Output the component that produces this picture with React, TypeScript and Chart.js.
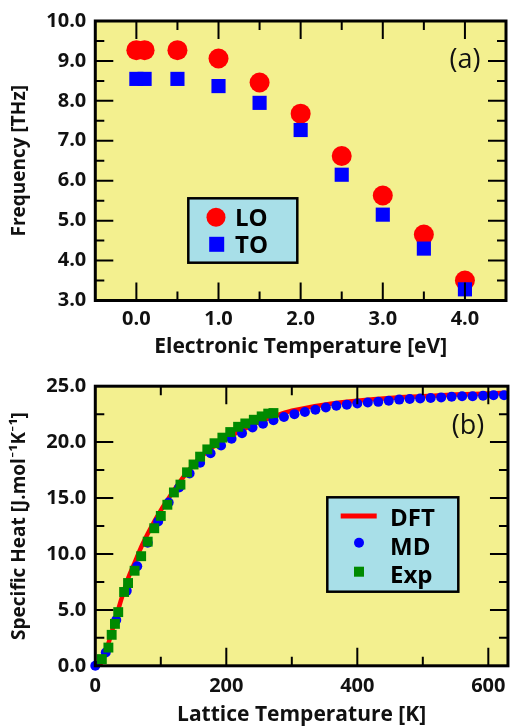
import React, { useEffect, useRef } from "react";
import { Chart, registerables } from "chart.js";
Chart.register(...registerables);

// ---------- Panel (a) data ----------
const electronicTemperature = [0.0, 0.1, 0.5, 1.0, 1.5, 2.0, 2.5, 3.0, 3.5, 4.0];
const loFrequency = [9.27, 9.27, 9.27, 9.06, 8.46, 7.68, 6.62, 5.63, 4.65, 3.5];
const toFrequency = [8.55, 8.55, 8.55, 8.37, 7.95, 7.27, 6.15, 5.15, 4.3, 3.28];
const frequencyTicks = [3, 4, 5, 6, 7, 8, 9, 10];
const frequencyMinorTicks = [3.5, 4.5, 5.5, 6.5, 7.5, 8.5, 9.5];
const electronicTicks = [0, 1, 2, 3, 4];
const electronicMinorTicks = [0.5, 1.5, 2.5, 3.5];

// ---------- Panel (b) data ----------
const dftTemperature = [0, 5, 10, 20, 30, 40, 50, 60, 70, 80, 90, 100, 110, 120, 140, 160, 180, 200, 225, 250, 275, 300, 350, 400, 450, 500, 550, 600, 630];
const dftHeat = [0, 0.05, 0.35, 2.0, 4.0, 6.0, 7.8, 9.2, 10.6, 11.8, 12.9, 13.9, 14.8, 15.7, 17.3, 18.6, 19.6, 20.35, 21.1, 21.8, 22.35, 22.8, 23.35, 23.7, 23.95, 24.1, 24.25, 24.35, 24.4];
const mdTemperature = [0, 16, 32, 48, 64, 80, 96, 112, 128, 144, 160, 176, 192, 208, 224, 240, 256, 272, 288, 304, 320, 336, 352, 368, 384, 400, 416, 432, 448, 464, 480, 496, 512, 528, 544, 560, 576, 592, 608, 624];
const mdHeat = [0, 1.19, 4.1, 6.7, 8.9, 11.0, 12.9, 14.6, 15.95, 17.2, 18.15, 19.0, 19.7, 20.3, 20.8, 21.3, 21.65, 21.95, 22.25, 22.5, 22.7, 22.9, 23.1, 23.25, 23.35, 23.45, 23.55, 23.6, 23.7, 23.8, 23.85, 23.9, 23.95, 24.0, 24.05, 24.1, 24.1, 24.15, 24.2, 24.2];
const expTemperature = [10, 20, 25, 30, 35, 44, 50, 60, 70, 80, 90, 100, 110, 120, 130, 140, 150, 160, 171, 182, 194, 206, 218, 229, 242, 254, 264, 272];
const expHeat = [0.6, 1.63, 2.77, 3.75, 4.8, 6.6, 7.4, 8.5, 9.8, 11.1, 12.3, 13.4, 14.4, 15.5, 16.2, 17.3, 18.0, 18.7, 19.35, 19.9, 20.4, 20.9, 21.37, 21.67, 22.0, 22.3, 22.55, 22.6];
const heatTicks = [0, 5, 10, 15, 20, 25];
const heatMinorTicks = [2.5, 7.5, 12.5, 17.5, 22.5];
const latticeTicks = [0, 200, 400, 600];
const latticeMinorTicks = [100, 300, 500];

const FAMILY = '"Open Sans", Lato, "DejaVu Sans", sans-serif';
const YELLOW = "#f3f08f";
const LEGEND_BG = "#a8dfe8";
const RED = "#ff0000";
const BLUE = "#0000ff";
const GREEN = "#008a00";

const pts = (xs: number[], ys: number[]) => xs.map((x, i) => ({ x, y: ys[i] }));

const frameTicksPlugin = {
  id: "frameTicks",
  beforeDatasetsDraw(chart: any, _a: any, o: any) {
    const { ctx, chartArea: a } = chart;
    ctx.save();
    ctx.fillStyle = o.background;
    ctx.fillRect(a.left, a.top, a.right - a.left, a.bottom - a.top);
    ctx.restore();
  },
  afterDatasetsDraw(chart: any, _a: any, o: any) {
    const { ctx, chartArea: a, scales } = chart;
    const xs = scales.x;
    const ys = scales.y;
    ctx.save();
    ctx.strokeStyle = "#000";
    ctx.lineWidth = o.tickWidth;
    const drawX = (vals: number[], len: number) =>
      vals.forEach((v) => {
        const p = xs.getPixelForValue(v);
        ctx.beginPath();
        ctx.moveTo(p, a.bottom);
        ctx.lineTo(p, a.bottom - len);
        ctx.moveTo(p, a.top);
        ctx.lineTo(p, a.top + len);
        ctx.stroke();
      });
    const drawY = (vals: number[], len: number) =>
      vals.forEach((v) => {
        const p = ys.getPixelForValue(v);
        ctx.beginPath();
        ctx.moveTo(a.left, p);
        ctx.lineTo(a.left + len, p);
        ctx.moveTo(a.right, p);
        ctx.lineTo(a.right - len, p);
        ctx.stroke();
      });
    drawX(o.xMajor, o.majorLen);
    drawX(o.xMinor, o.minorLen);
    drawY(o.yMajor, o.majorLen);
    drawY(o.yMinor, o.minorLen);
    ctx.lineWidth = o.frameWidth;
    ctx.strokeRect(a.left, a.top, a.right - a.left, a.bottom - a.top);
    ctx.fillStyle = "#111";
    ctx.font = `400 ${o.panelSize}px ${FAMILY}`;
    ctx.textAlign = "center";
    ctx.textBaseline = "middle";
    ctx.fillText(o.panelLabel, a.right - o.panelDx, a.top + o.panelDy);
    ctx.restore();
  },
};

const boxLegendPlugin = {
  id: "boxLegend",
  afterDraw(chart: any, _a: any, o: any) {
    const { ctx } = chart;
    const b = o.box;
    ctx.save();
    ctx.fillStyle = LEGEND_BG;
    ctx.fillRect(b.left, b.top, b.right - b.left, b.bottom - b.top);
    ctx.strokeStyle = "#000";
    ctx.lineWidth = o.borderWidth;
    ctx.strokeRect(b.left, b.top, b.right - b.left, b.bottom - b.top);
    o.items.forEach((it: any) => {
      const ds = chart.data.datasets[it.dataset];
      const color = ds.kind === "line" ? ds.borderColor : ds.backgroundColor;
      ctx.fillStyle = color;
      ctx.strokeStyle = color;
      if (it.marker === "circle") {
        ctx.beginPath();
        ctx.arc(it.mx, it.my, it.size, 0, Math.PI * 2);
        ctx.fill();
      } else if (it.marker === "rect") {
        ctx.fillRect(it.mx - it.size / 2, it.my - it.size / 2, it.size, it.size);
      } else {
        ctx.lineWidth = it.size;
        ctx.beginPath();
        ctx.moveTo(it.mx - it.len / 2, it.my);
        ctx.lineTo(it.mx + it.len / 2, it.my);
        ctx.stroke();
      }
      ctx.fillStyle = "#000";
      ctx.font = `700 ${o.fontSize}px ${FAMILY}`;
      ctx.textAlign = "left";
      ctx.textBaseline = "alphabetic";
      ctx.fillText(ds.label, o.textX, it.ty);
    });
    ctx.restore();
  },
};

const tickFont = { family: FAMILY, size: 20, weight: "bold" as const, lineHeight: 1 };

function axisBase(min: number, max: number, values: number[], fmt: (v: number) => string, pad: number) {
  return {
    type: "linear" as const,
    min,
    max,
    grid: { display: false, drawTicks: false },
    border: { display: false },
    afterBuildTicks: (s: any) => {
      s.ticks = values.map((v) => ({ value: v }));
    },
    ticks: {
      callback: (v: any) => fmt(Number(v)),
      font: tickFont,
      color: "#111",
      padding: pad,
      maxRotation: 0,
      autoSkip: false,
    },
  };
}

export default function App() {
  const topRef = useRef<HTMLCanvasElement>(null);
  const botRef = useRef<HTMLCanvasElement>(null);

  useEffect(() => {
    const top = new Chart(topRef.current!, {
      type: "scatter",
      data: {
        datasets: [
          {
            label: "LO",
            data: pts(electronicTemperature, loFrequency),
            pointStyle: "circle",
            pointRadius: 10,
            pointHoverRadius: 10,
            backgroundColor: RED,
            borderWidth: 0,
            order: 2,
            clip: false,
          } as any,
          {
            label: "TO",
            data: pts(electronicTemperature, toFrequency),
            pointStyle: "rect",
            pointRadius: 10,
            pointHoverRadius: 10,
            backgroundColor: BLUE,
            borderWidth: 0,
            order: 1,
            clip: false,
          } as any,
        ],
      },
      options: {
        responsive: false,
        animation: false,
        events: [],
        layout: { padding: { left: 0, right: 1.3, top: 21, bottom: 0 } },
        plugins: {
          legend: { display: false },
          tooltip: { enabled: false },
          frameTicks: {
            background: YELLOW,
            xMajor: electronicTicks,
            xMinor: electronicMinorTicks,
            yMajor: frequencyTicks.slice(1, -1),
            yMinor: frequencyMinorTicks,
            majorLen: 18,
            minorLen: 9,
            tickWidth: 2,
            frameWidth: 3,
            panelLabel: "(a)",
            panelSize: 27,
            panelDx: 41,
            panelDy: 39,
          },
          boxLegend: {
            box: { left: 188.3, top: 198.3, right: 297.3, bottom: 262.7 },
            borderWidth: 2.5,
            fontSize: 24,
            textX: 235,
            items: [
              { dataset: 0, marker: "circle", mx: 216, my: 217.3, size: 9.5, ty: 225.7 },
              { dataset: 1, marker: "rect", mx: 216.7, my: 244.3, size: 15, ty: 253.3 },
            ],
          },
        } as any,
        scales: {
          x: {
            ...axisBase(-0.5, 4.5, electronicTicks, (v) => v.toFixed(1), 8.8),
            title: {
              display: true,
              text: "Electronic Temperature [eV]",
              font: { family: FAMILY, size: 21, weight: "bold", lineHeight: 1 },
              color: "#111",
              padding: { top: 0, bottom: 2.5 },
            },
            afterFit: (s: any) => {
              s.height = 59.5;
            },
          },
          y: {
            ...axisBase(3, 10, frequencyTicks, (v) => v.toFixed(1), 9),
            title: {
              display: true,
              text: "Frequency [THz]",
              font: { family: FAMILY, size: 19, weight: "bold", lineHeight: 1 },
              color: "#111",
              padding: { top: 10, bottom: 0 },
            },
            afterFit: (s: any) => {
              s.width = 95.3;
            },
          },
        } as any,
      },
      plugins: [frameTicksPlugin, boxLegendPlugin],
    });

    const bottom = new Chart(botRef.current!, {
      type: "scatter",
      data: {
        datasets: [
          {
            label: "DFT",
            kind: "line",
            data: pts(dftTemperature, dftHeat),
            showLine: true,
            borderColor: RED,
            backgroundColor: RED,
            borderWidth: 4.5,
            pointRadius: 0,
            pointHoverRadius: 0,
            cubicInterpolationMode: "monotone",
            order: 3,
            clip: false,
          } as any,
          {
            label: "MD",
            data: pts(mdTemperature, mdHeat),
            pointStyle: "circle",
            pointRadius: 5,
            pointHoverRadius: 5,
            backgroundColor: BLUE,
            borderWidth: 0,
            order: 2,
            clip: false,
          } as any,
          {
            label: "Exp",
            data: pts(expTemperature, expHeat),
            pointStyle: "rect",
            pointRadius: 7,
            pointHoverRadius: 7,
            backgroundColor: GREEN,
            borderWidth: 0,
            order: 1,
            clip: false,
          } as any,
        ],
      },
      options: {
        responsive: false,
        animation: false,
        events: [],
        layout: { padding: { left: 0, right: 1.3, top: 26.2, bottom: 0 } },
        plugins: {
          legend: { display: false },
          tooltip: { enabled: false },
          frameTicks: {
            background: YELLOW,
            xMajor: latticeTicks.slice(1),
            xMinor: latticeMinorTicks,
            yMajor: heatTicks.slice(1, -1),
            yMinor: heatMinorTicks,
            majorLen: 18,
            minorLen: 9,
            tickWidth: 2,
            frameWidth: 3,
            panelLabel: "(b)",
            panelSize: 27,
            panelDx: 40,
            panelDy: 40,
          },
          boxLegend: {
            box: { left: 327.3, top: 137.3, right: 458.3, bottom: 231.7 },
            borderWidth: 2.5,
            fontSize: 24,
            textX: 390,
            items: [
              { dataset: 0, marker: "line", mx: 358.7, my: 156, size: 5, len: 36, ty: 166 },
              { dataset: 1, marker: "circle", mx: 359, my: 182.7, size: 5, ty: 195 },
              { dataset: 2, marker: "rect", mx: 359, my: 211.7, size: 10, ty: 222.7 },
            ],
          },
        } as any,
        scales: {
          x: {
            ...axisBase(0, 630, latticeTicks, (v) => String(Math.round(v)), 10.2),
            title: {
              display: true,
              text: "Lattice Temperature [K]",
              font: { family: FAMILY, size: 21, weight: "bold", lineHeight: 1 },
              color: "#111",
              padding: { top: 0, bottom: 0.5 },
            },
            afterFit: (s: any) => {
              s.height = 60.2;
            },
          },
          y: {
            ...axisBase(0, 25, heatTicks, (v) => v.toFixed(1), 9),
            title: {
              display: true,
              text: "Specific Heat [J.mol⁻¹K⁻¹]",
              font: { family: FAMILY, size: 19, weight: "bold", lineHeight: 1 },
              color: "#111",
              padding: { top: 10, bottom: 0 },
            },
            afterFit: (s: any) => {
              s.width = 95.3;
            },
          },
        } as any,
      },
      plugins: [frameTicksPlugin, boxLegendPlugin],
    });

    return () => {
      top.destroy();
      bottom.destroy();
    };
  }, []);

  return (
    <div style={{ position: "absolute", left: 0, top: 0, width: 516, height: 726, background: "#fff" }}>
      <canvas ref={topRef} width={516} height={360} style={{ position: "absolute", left: 0, top: 0 }} />
      <canvas ref={botRef} width={516} height={366} style={{ position: "absolute", left: 0, top: 360 }} />
    </div>
  );
}
